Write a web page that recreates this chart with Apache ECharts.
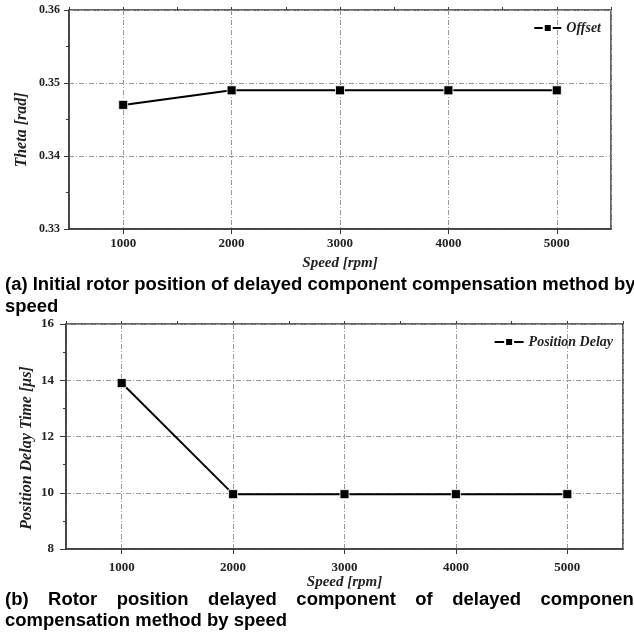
<!DOCTYPE html>
<html>
<head>
<meta charset="utf-8">
<script src="https://cdn.jsdelivr.net/npm/echarts@6/dist/echarts.min.js"></script>
<style>
  html, body { margin: 0; padding: 0; background: #fff; }
  #chart { width: 634px; height: 638px; }
</style>
</head>
<body>
<div id="chart"></div>
<script>
// Speed sweep and the two measured quantities
const speeds = [1000, 2000, 3000, 4000, 5000];
const offsetTheta = [0.347, 0.349, 0.349, 0.349, 0.349];
const positionDelay = [13.9, 9.95, 9.95, 9.95, 9.95];

// Axis ranges
const speedRange = { min: 500, max: 5500, minorStep: 500 };
const thetaRange = { min: 0.33, max: 0.36, step: 0.01 };
const delayRange = { min: 8, max: 16, step: 2 };

const captionA = ['(a) Initial rotor position of delayed component compensation method by', 'speed'];
const captionB = ['(b) Rotor position delayed component of delayed component', 'compensation method by speed'];

const SERIF = '"Liberation Serif", "Times New Roman", serif';
const SANS = '"Liberation Sans", Arial, sans-serif';
const AXIS_COLOR = '#3a3a3a';
const GRID_LINE = { type: [5, 2, 1, 2], color: '#9a9a9a', width: 1 };

const chart = echarts.init(document.getElementById('chart'), null, { renderer: 'canvas' });

const grids = [
  { left: 69, top: 10, width: 542, height: 219 },
  { left: 66, top: 324, width: 557, height: 225 }
];

function speedAxes(gridIndex, labelMargin, nameGap) {
  return [
    {
      type: 'value', gridIndex,
      min: speedRange.min, max: speedRange.max, splitNumber: 5,
      axisLine: { lineStyle: { color: AXIS_COLOR, width: 1.5 } },
      axisTick: { length: 5, lineStyle: { color: AXIS_COLOR, width: 1 } },
      axisLabel: {
        showMinLabel: false, showMaxLabel: false,
        formatter: v => (v % 1000 === 0 ? String(v) : ''),
        fontFamily: SERIF, fontWeight: 'bold', fontSize: 13, color: '#222', margin: labelMargin
      },
      splitLine: { show: true, lineStyle: GRID_LINE },
      name: 'Speed [rpm]', nameLocation: 'middle', nameGap,
      nameTextStyle: { fontFamily: SERIF, fontWeight: 'bold', fontStyle: 'italic', fontSize: 15, color: '#222' }
    },
    {
      // half-step ticks along the speed axis
      type: 'value', gridIndex,
      min: speedRange.min, max: speedRange.max, interval: speedRange.minorStep,
      axisLine: { show: false },
      axisTick: { length: 3, lineStyle: { color: AXIS_COLOR, width: 1 } },
      axisLabel: { show: false },
      splitLine: { show: false }
    }
  ];
}

function valueAxis(gridIndex, range, digits, tickLen, margin, fontSize) {
  return {
    type: 'value', gridIndex,
    min: range.min, max: range.max, interval: range.step,
    axisLine: { show: true, lineStyle: { color: AXIS_COLOR, width: 1.5 } },
    axisTick: { show: true, length: tickLen, lineStyle: { color: AXIS_COLOR, width: 1 } },
    minorTick: { show: true, splitNumber: 2, length: 3, lineStyle: { color: AXIS_COLOR, width: 1 } },
    axisLabel: {
      formatter: v => v.toFixed(digits),
      fontFamily: SERIF, fontWeight: 'bold', fontSize, color: '#222', margin
    },
    splitLine: { show: true, lineStyle: GRID_LINE }
  };
}

function lineSeries(name, xIdx, yIdx, values) {
  return {
    name, type: 'line', xAxisIndex: xIdx, yAxisIndex: yIdx,
    data: speeds.map((s, i) => [s, values[i]]),
    symbol: 'rect', symbolSize: 9,
    lineStyle: { color: '#000', width: 2 },
    itemStyle: { color: '#000', borderColor: '#fff', borderWidth: 0.8 },
    emphasis: { disabled: true },
    animation: false, z: 5
  };
}

// Caption layout: condensed bold sans text measured on a canvas
const CAP_FONT = 'bold 18px ' + SANS;
const ctx = document.createElement('canvas').getContext('2d');
ctx.font = CAP_FONT;
const measure = t => ctx.measureText(t).width;
const capScale = (287 - 5) / measure(captionB[1]);

function capText(text, x, y) {
  return {
    type: 'text', x, y, scaleX: capScale, silent: true,
    style: { text, font: CAP_FONT, fill: '#000', textAlign: 'left', textVerticalAlign: 'middle', align: 'left', verticalAlign: 'middle' }
  };
}

const graphics = [];
graphics.push(capText(captionA[0], 5, 285));
graphics.push(capText(captionA[1], 5, 307));
// justified first line of caption (b)
const wordsB = captionB[0].split(' ');
const widthsB = wordsB.map(w => measure(w) * capScale);
const gapB = (640 - 5 - widthsB.reduce((a, b) => a + b, 0)) / (wordsB.length - 1);
let xb = 5;
wordsB.forEach((w, i) => { graphics.push(capText(w, xb, 600)); xb += widthsB[i] + gapB; });
graphics.push(capText(captionB[1], 5, 621));

// rotated y-axis titles
function yTitle(text, x, y) {
  return {
    type: 'text', x, y, rotation: Math.PI / 2, silent: true,
    style: { text, font: 'italic bold 16px ' + SERIF, fill: '#222', textAlign: 'center', textVerticalAlign: 'middle', align: 'center', verticalAlign: 'middle' }
  };
}
graphics.push(yTitle('Theta [rad]', 22, 130));
graphics.push(yTitle('Position Delay Time [\u03bcs]', 27, 448));

const legendText = { fontFamily: SERIF, fontWeight: 'bold', fontStyle: 'italic', fontSize: 14, color: '#222' };

chart.setOption({
  animation: false,
  backgroundColor: '#fff',
  grid: grids.map(g => Object.assign({ show: true, borderColor: '#333', borderWidth: 1.5, backgroundColor: 'transparent', containLabel: false }, g)),
  xAxis: [...speedAxes(0, 8, 27), ...speedAxes(1, 12, 25)],
  yAxis: [
    valueAxis(0, thetaRange, 2, 5, 9, 12),
    valueAxis(1, delayRange, 0, 6, 12, 13)
  ],
  legend: [
    { data: ['Offset'], right: 33, top: 21, padding: 0, itemWidth: 27, itemHeight: 10, itemGap: 0, textStyle: legendText, selectedMode: false },
    { data: ['Position Delay'], right: 21, top: 335, padding: 0, itemWidth: 29, itemHeight: 10, itemGap: 0, textStyle: legendText, selectedMode: false }
  ],
  series: [
    lineSeries('Offset', 0, 0, offsetTheta),
    lineSeries('Position Delay', 2, 1, positionDelay)
  ],
  graphic: graphics
});
</script>
</body>
</html>
